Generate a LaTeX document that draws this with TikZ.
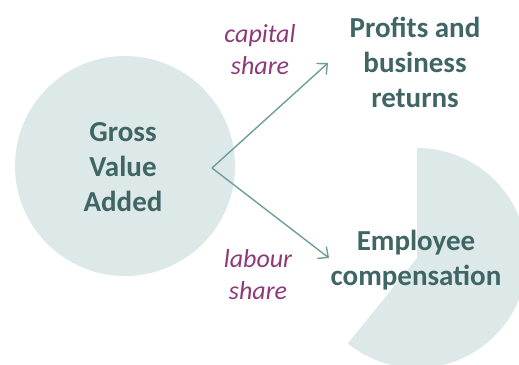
\documentclass[tikz,border=0pt]{standalone}
\usepackage{fontspec}
\setmainfont{Carlito}
\usetikzlibrary{arrows.meta}
\definecolor{disc}{HTML}{DDE8E8}
\definecolor{maintext}{HTML}{3F6565}
\definecolor{sharetext}{HTML}{8E3A78}
\definecolor{arrowc}{HTML}{6E9E9C}
\begin{document}
\begin{tikzpicture}[x=1pt,y=1pt,
  bigtext/.style={font=\bfseries\fontsize{29}{35}\selectfont, text=maintext, align=center, inner sep=0pt},
  sharelabel/.style={font=\itshape\fontsize{26}{32}\selectfont, text=sharetext, align=center, inner sep=0pt},
  flow/.style={draw=arrowc, line width=1.4pt, -{Straight Barb[length=8pt,width=15pt,line width=1.4pt]}}]
\useasboundingbox (0,0) rectangle (519,364);
\clip (0,0) rectangle (519,364);
% big disc
\fill[disc] (125,198) circle[radius=110];
% pie sector
\coordinate (piec) at (417,106);
\fill[disc] (piec) -- ++(90:110) arc[start angle=90, end angle=-129, radius=110] -- cycle;
% texts
\node[bigtext] (gva) at (123,197) {Gross\\Value\\Added};
\node[bigtext] (profits) at (415,302) {Profits and\\business\\returns};
\node[bigtext] (employee) at (416,104) {Employee\\compensation};
\node[sharelabel] (capital) at (260,314) {capital\\share};
\node[sharelabel] (labour) at (258,89) {labour\\share};
% connectors
\coordinate (split) at (212,196);
\coordinate (ptip) at (328,301);
\coordinate (etip) at (329,106);
\draw[flow] (split) -- (ptip);
\draw[flow] (split) -- (etip);
\end{tikzpicture}
\end{document}
